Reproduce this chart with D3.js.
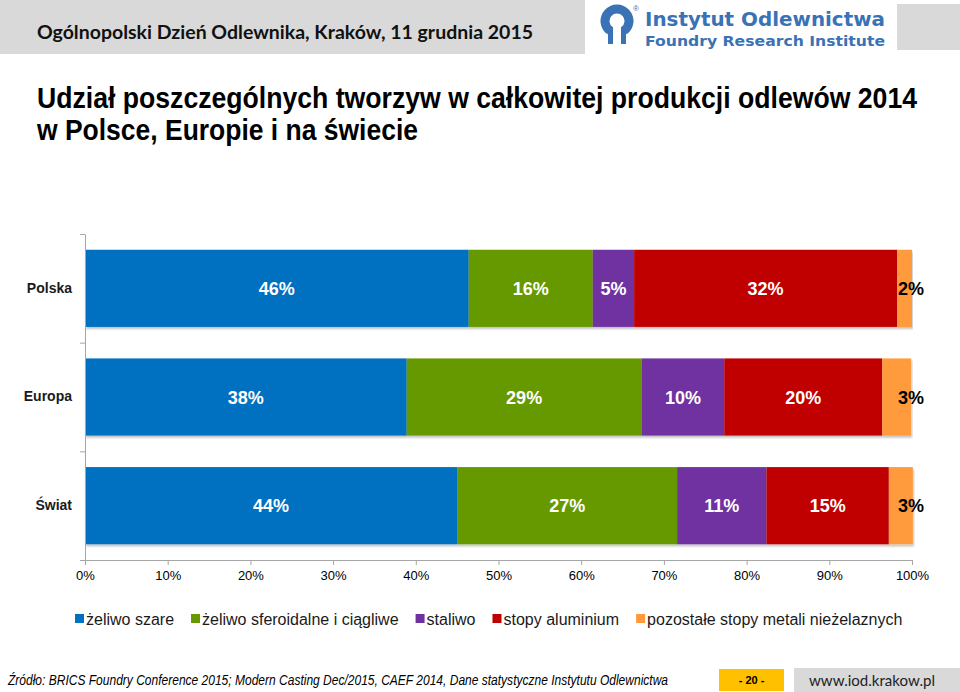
<!DOCTYPE html>
<html><head><meta charset="utf-8">
<script src="https://cdn.jsdelivr.net/npm/d3@7"></script>
<style>
html,body{margin:0;padding:0;background:#fff;}
svg{display:block;}
</style></head>
<body>
<svg id="chart" width="960" height="692"></svg>
<script>
// ---- data ----
const categories = ["Polska", "Europa", "Świat"];
const seriesNames = ["żeliwo szare", "żeliwo sferoidalne i ciągliwe", "staliwo", "stopy aluminium", "pozostałe stopy metali nieżelaznych"];
const seriesColors = ["#0070c0", "#669900", "#7030a0", "#c00000", "#ff9a3c"];
// segment shares (% of total)
const zeliwoSzare = [46.4, 38.9, 45.0];
const zeliwoSferoidalne = [15.0, 28.4, 26.6];
const staliwo = [5.0, 10.0, 10.8];
const stopyAluminium = [31.8, 19.1, 14.8];
const pozostale = [1.8, 3.5, 2.9];
// data labels printed on the bars
const labelSzare = [46, 38, 44];
const labelSferoidalne = [16, 29, 27];
const labelStaliwo = [5, 10, 11];
const labelAluminium = [32, 20, 15];
const labelPozostale = [2, 3, 3];
const xTicks = [0, 10, 20, 30, 40, 50, 60, 70, 80, 90, 100];

const seriesValues = [zeliwoSzare, zeliwoSferoidalne, staliwo, stopyAluminium, pozostale];
const seriesLabels = [labelSzare, labelSferoidalne, labelStaliwo, labelAluminium, labelPozostale];

const svg = d3.select("#chart");

// ---- slide header ----
svg.append("rect").attr("x", 0).attr("y", 0).attr("width", 585).attr("height", 54).attr("fill", "#d9d9d9");
svg.append("rect").attr("x", 897).attr("y", 4).attr("width", 63).attr("height", 46).attr("fill", "#d9d9d9");
svg.append("text").attr("x", 37).attr("y", 39)
  .attr("font-family", "Lato, 'Open Sans', sans-serif").attr("font-weight", "bold").attr("font-size", 18.5)
  .attr("textLength", 496).attr("lengthAdjust", "spacingAndGlyphs").attr("fill", "#111")
  .text("Ogólnopolski Dzień Odlewnika, Kraków, 11 grudnia 2015");

// logo
const logoBlue = "#3a72b6";
const lg = svg.append("g");
const lcx = 617, lcy = 21, lr = 12;
lg.append("path").attr("transform", `translate(${lcx},${lcy})`)
  .attr("d", d3.arc().innerRadius(lr - 4.5).outerRadius(lr + 4.5).startAngle(Math.PI * 1.2).endAngle(Math.PI * 2.8)())
  .attr("fill", logoBlue);
lg.append("rect").attr("x", lcx - 9).attr("y", lcy + 6).attr("width", 5).attr("height", 17).attr("fill", logoBlue);
lg.append("rect").attr("x", lcx + 4).attr("y", lcy + 6).attr("width", 5).attr("height", 17).attr("fill", logoBlue);
lg.append("text").attr("x", 633).attr("y", 11).attr("font-family", "Arial, sans-serif").attr("font-size", 8).attr("fill", logoBlue).text("®");
lg.append("text").attr("x", 645).attr("y", 26)
  .attr("font-family", "'DejaVu Sans', Verdana, sans-serif").attr("font-weight", "bold").attr("font-size", 19)
  .attr("textLength", 240).attr("lengthAdjust", "spacingAndGlyphs").attr("fill", logoBlue).text("Instytut Odlewnictwa");
lg.append("text").attr("x", 645).attr("y", 46)
  .attr("font-family", "'DejaVu Sans', Verdana, sans-serif").attr("font-weight", "bold").attr("font-size", 14)
  .attr("textLength", 240).attr("lengthAdjust", "spacingAndGlyphs").attr("fill", logoBlue).text("Foundry Research Institute");

// ---- chart title ----
const titleFont = "'Liberation Sans Narrow', 'Arial Narrow', Arial, sans-serif";
svg.append("text").attr("x", 37).attr("y", 108).attr("font-family", titleFont).attr("font-weight", "bold")
  .attr("font-size", 29).attr("textLength", 880).attr("lengthAdjust", "spacingAndGlyphs").attr("fill", "#000")
  .text("Udział poszczególnych tworzyw w całkowitej produkcji odlewów 2014");
svg.append("text").attr("x", 37).attr("y", 140).attr("font-family", titleFont).attr("font-weight", "bold")
  .attr("font-size", 29).attr("textLength", 381).attr("lengthAdjust", "spacingAndGlyphs").attr("fill", "#000")
  .text("w Polsce, Europie i na świecie");

// ---- chart ----
const plotLeft = 85, plotRight = 912, plotTop = 234, plotBottom = 560;
const x = d3.scaleLinear().domain([0, 100]).range([plotLeft, plotRight]);
const y = d3.scaleBand().domain(categories).range([plotTop, plotBottom]).paddingInner(0.29).paddingOuter(0.145);

const rows = categories.map((c, i) => {
  const o = { cat: c };
  seriesNames.forEach((s, j) => { o[s] = seriesValues[j][i]; });
  return o;
});
const stacked = d3.stack().keys(seriesNames)(rows);

const defs = svg.append("defs");
const f = defs.append("filter").attr("id", "sh").attr("x", "-5%").attr("y", "-5%").attr("width", "110%").attr("height", "120%");
f.append("feDropShadow").attr("dx", 1).attr("dy", 2).attr("stdDeviation", 1).attr("flood-color", "#000").attr("flood-opacity", 0.25);

const barG = svg.append("g");
stacked.forEach((layer, j) => {
  barG.selectAll(null).data(layer).enter().append("rect")
    .attr("x", d => x(d[0]))
    .attr("y", (d, i) => y(categories[i]))
    .attr("width", d => x(d[1]) - x(d[0]))
    .attr("height", y.bandwidth())
    .attr("fill", seriesColors[j])
    .attr("filter", "url(#sh)");
});

// data labels
const labG = svg.append("g").attr("font-family", "Arial, 'Liberation Sans', sans-serif").attr("font-weight", "bold").attr("font-size", 18);
stacked.forEach((layer, j) => {
  labG.selectAll(null).data(layer).enter().append("text")
    .attr("x", (d, i) => {
      const c = (x(d[0]) + x(d[1])) / 2;
      return j === seriesNames.length - 1 ? Math.max(c, plotRight - 1) : c;
    })
    .attr("y", (d, i) => y(categories[i]) + y.bandwidth() / 2 + 6.5)
    .attr("text-anchor", "middle")
    .attr("fill", j === seriesNames.length - 1 ? "#000" : "#fff")
    .text((d, i) => seriesLabels[j][i] + "%");
});

// axes
const axisColor = "#a6a6a6";
const xAxis = svg.append("g").attr("transform", `translate(0,${plotBottom})`)
  .call(d3.axisBottom(x).tickValues(xTicks).tickFormat(d => d + "%").tickSize(5).tickSizeOuter(0).tickPadding(6));
xAxis.selectAll("path,line").attr("stroke", axisColor);
xAxis.selectAll("text").attr("font-family", "Arial, 'Liberation Sans', sans-serif").attr("font-size", 13).attr("fill", "#000");

const yEdges = d3.scaleLinear().domain([0, categories.length]).range([plotTop, plotBottom]);
const yAxis = svg.append("g").attr("transform", `translate(${plotLeft},0)`)
  .call(d3.axisLeft(yEdges).ticks(categories.length).tickFormat("").tickSize(5).tickSizeOuter(0));
yAxis.selectAll("path,line").attr("stroke", axisColor);

const catAxis = svg.append("g").attr("transform", `translate(${plotLeft},0)`)
  .call(d3.axisLeft(y).tickSize(0).tickPadding(13));
catAxis.select(".domain").remove();
catAxis.selectAll("text").attr("font-family", "Arial, 'Liberation Sans', sans-serif").attr("font-weight", "bold")
  .attr("font-size", 14).attr("fill", "#1a1a1a");

// legend
const legG = svg.append("g").attr("font-family", "Arial, 'Liberation Sans', sans-serif").attr("font-size", 16);
let lx = 75;
seriesNames.forEach((s, j) => {
  legG.append("rect").attr("x", lx).attr("y", 614).attr("width", 9).attr("height", 9).attr("fill", seriesColors[j]);
  const t = legG.append("text").attr("x", lx + 11).attr("y", 625).attr("fill", "#1a1a1a").text(s);
  lx += 11 + t.node().getComputedTextLength() + 17;
});

// ---- footer ----
svg.append("text").attr("x", 8).attr("y", 685).attr("font-family", titleFont).attr("font-style", "italic")
  .attr("font-size", 14).attr("textLength", 660).attr("lengthAdjust", "spacingAndGlyphs").attr("fill", "#000")
  .text("Źródło: BRICS Foundry Conference 2015; Modern Casting Dec/2015, CAEF 2014, Dane statystyczne Instytutu Odlewnictwa");
svg.append("rect").attr("x", 719).attr("y", 669).attr("width", 65).attr("height", 22).attr("fill", "#ffc000");
svg.append("text").attr("x", 751.5).attr("y", 684).attr("text-anchor", "middle").attr("font-family", "Arial, sans-serif")
  .attr("font-weight", "bold").attr("font-size", 11).attr("fill", "#000").text("- 20 -");
svg.append("rect").attr("x", 794).attr("y", 668).attr("width", 166).attr("height", 24).attr("fill", "#d9d9d9");
svg.append("text").attr("x", 872).attr("y", 686).attr("text-anchor", "middle").attr("font-family", "Lato, 'Open Sans', sans-serif")
  .attr("font-size", 16).attr("textLength", 126).attr("lengthAdjust", "spacingAndGlyphs").attr("fill", "#222").text("www.iod.krakow.pl");
</script>
</body></html>
